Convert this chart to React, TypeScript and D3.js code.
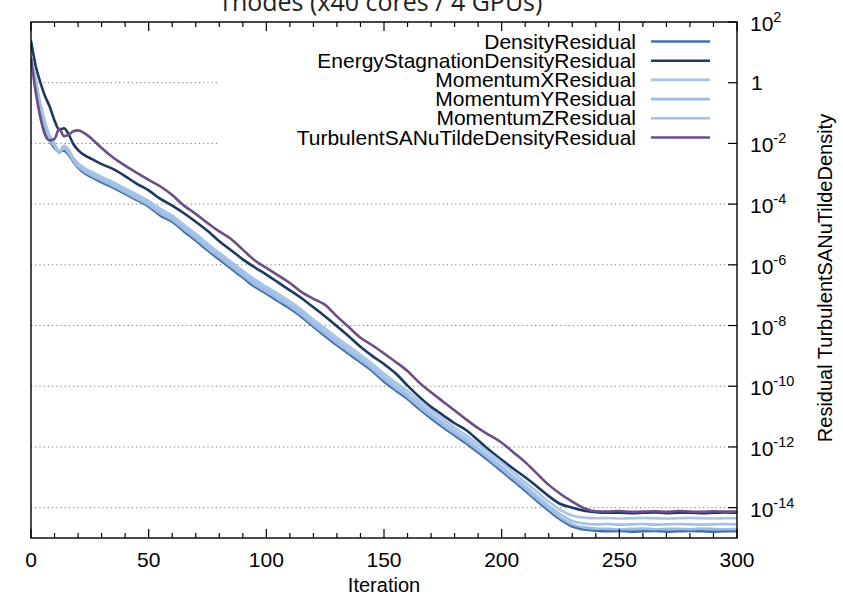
import React from "react";
import * as d3 from "d3";

// iteration numbers the residuals were read at
const iterations = [
  0, 2, 4, 6, 8, 10, 12, 14, 16, 18, 20, 23, 26,
  30, 35, 40, 45, 50, 55, 60, 65, 70, 75, 80, 85, 90, 95, 100,
  105, 110, 115, 120, 125, 130, 135, 140, 145, 150, 155, 160, 165, 170,
  175, 180, 185, 190, 195, 200, 205, 210, 215, 220, 225, 230,
  235, 240, 245, 250, 255, 260, 265, 270, 275, 280, 285, 290, 295, 300,
];

// log10 of each residual
const densityResidual = [
  0.8, 0.05, -0.85, -1.47, -1.9, -2.15, -2.26, -2.24, -2.38, -2.6, -2.8, -3.0, -3.12,
  -3.28, -3.46, -3.66, -3.87, -4.08, -4.38, -4.58, -4.9, -5.2, -5.52, -5.82, -6.12, -6.42, -6.72, -6.95,
  -7.2, -7.44, -7.72, -8.04, -8.35, -8.65, -8.93, -9.21, -9.5, -9.85, -10.14, -10.42, -10.75, -11.06,
  -11.35, -11.62, -11.89, -12.18, -12.48, -12.8, -13.12, -13.44, -13.78, -14.1, -14.4, -14.62,
  -14.72, -14.76, -14.78, -14.77, -14.79, -14.78, -14.77, -14.79, -14.78, -14.77, -14.78, -14.79, -14.78, -14.78,
];
const energyStagnationDensityResidual = [
  1.38, 0.55, 0.0, -0.45, -0.8, -1.25, -1.55, -1.5, -1.7, -2.02, -2.22, -2.4, -2.52,
  -2.68, -2.85, -3.08, -3.33, -3.55, -3.83, -4.05, -4.3, -4.58, -4.88, -5.22, -5.52, -5.82, -6.08, -6.32,
  -6.58, -6.84, -7.1, -7.4, -7.7, -8.02, -8.35, -8.7, -9.0, -9.27, -9.58, -9.98, -10.35, -10.68,
  -10.95, -11.22, -11.45, -11.78, -12.12, -12.42, -12.72, -13.0, -13.3, -13.62, -13.88, -14.0,
  -14.1, -14.15, -14.17, -14.17, -14.18, -14.17, -14.16, -14.18, -14.17, -14.17, -14.18, -14.17, -14.16, -14.17,
];
const momentumXResidual = [
  0.82, 0.1, -0.7, -1.3, -1.75, -2.0, -2.28, -2.08, -2.2, -2.48, -2.65, -2.82, -2.95,
  -3.1, -3.28, -3.48, -3.68, -3.9, -4.16, -4.38, -4.68, -4.98, -5.3, -5.6, -5.9, -6.2, -6.48, -6.72,
  -6.96, -7.2, -7.48, -7.8, -8.1, -8.4, -8.68, -8.96, -9.26, -9.58, -9.88, -10.16, -10.48, -10.8,
  -11.08, -11.36, -11.62, -11.92, -12.22, -12.52, -12.84, -13.16, -13.48, -13.8, -14.08, -14.26,
  -14.33, -14.35, -14.34, -14.36, -14.35, -14.34, -14.35, -14.36, -14.35, -14.34, -14.35, -14.36, -14.35, -14.35,
];
const momentumYResidual = [
  0.8, 0.0, -0.82, -1.42, -1.85, -2.08, -2.3, -2.15, -2.32, -2.56, -2.76, -2.94, -3.07,
  -3.22, -3.41, -3.61, -3.82, -4.03, -4.31, -4.52, -4.83, -5.13, -5.45, -5.75, -6.05, -6.35, -6.65, -6.88,
  -7.13, -7.37, -7.65, -7.97, -8.28, -8.58, -8.86, -9.14, -9.43, -9.77, -10.07, -10.35, -10.68, -10.99,
  -11.28, -11.55, -11.82, -12.11, -12.41, -12.73, -13.05, -13.37, -13.71, -14.03, -14.33, -14.55,
  -14.65, -14.69, -14.7, -14.71, -14.7, -14.69, -14.71, -14.7, -14.7, -14.71, -14.69, -14.7, -14.71, -14.7,
];
const momentumZResidual = [
  0.85, 0.05, -0.78, -1.38, -1.8, -2.05, -2.32, -2.12, -2.26, -2.52, -2.7, -2.88, -3.02,
  -3.16, -3.35, -3.55, -3.76, -3.98, -4.24, -4.46, -4.76, -5.06, -5.38, -5.68, -5.98, -6.28, -6.57, -6.8,
  -7.05, -7.29, -7.57, -7.89, -8.19, -8.5, -8.78, -9.06, -9.36, -9.69, -9.99, -10.27, -10.59, -10.91,
  -11.2, -11.47, -11.74, -12.04, -12.34, -12.65, -12.97, -13.29, -13.62, -13.94, -14.22, -14.44,
  -14.52, -14.55, -14.54, -14.56, -14.55, -14.54, -14.56, -14.55, -14.54, -14.55, -14.56, -14.55, -14.54, -14.55,
];
const turbulentSANuTildeDensityResidual = [
  0.82, -0.3, -1.15, -1.72, -1.9, -1.85, -1.52, -1.76, -1.72, -1.6, -1.57, -1.68, -1.86,
  -2.15, -2.47, -2.73, -2.97, -3.2, -3.42, -3.7, -4.05, -4.32, -4.62, -4.9, -5.15, -5.5, -5.85, -6.1,
  -6.35, -6.6, -6.9, -7.12, -7.32, -7.7, -8.05, -8.4, -8.65, -8.92, -9.2, -9.5, -9.88, -10.2,
  -10.5, -10.8, -11.1, -11.38, -11.62, -11.86, -12.18, -12.5, -12.88, -13.25, -13.55, -13.8,
  -14.02, -14.12, -14.13, -14.11, -14.14, -14.13, -14.12, -14.14, -14.11, -14.13, -14.14, -14.12, -14.13, -14.13,
];

const seriesNames = [
  "DensityResidual",
  "EnergyStagnationDensityResidual",
  "MomentumXResidual",
  "MomentumYResidual",
  "MomentumZResidual",
  "TurbulentSANuTildeDensityResidual",
];
const seriesValues = [
  densityResidual,
  energyStagnationDensityResidual,
  momentumXResidual,
  momentumYResidual,
  momentumZResidual,
  turbulentSANuTildeDensityResidual,
];
const seriesColors = ["#4270a8", "#1b3a5e", "#a8c5e6", "#9dbbe3", "#a4c0e6", "#6b4e87"];

const xTicks = [0, 50, 100, 150, 200, 250, 300];
const yTickExponents = [2, 0, -2, -4, -6, -8, -10, -12, -14];

const title = "1nodes (x40 cores / 4 GPUs)";
const font = "'Liberation Sans', Arial, Helvetica, sans-serif";

export default function App() {
  const width = 843;
  const height = 596;
  const left = 31;
  const right = 737;
  const top = 22;
  const bottom = 538;

  const x = d3.scaleLinear().domain([0, 300]).range([left, right]);
  const y = d3.scaleLog().domain([1e-15, 1e2]).range([bottom, top]);

  const line = d3
    .line<number>()
    .x((_, i) => x(iterations[i]))
    .y((d) => y(Math.pow(10, d)))
    .curve(d3.curveMonotoneX);

  const minorX = d3.range(0, 301, 10);

  return (
    <svg
      width={width}
      height={height}
      style={{ position: "absolute", left: 0, top: 0, background: "#fff" }}
      fontFamily={font}
    >
      <defs>
        <clipPath id="plot">
          <rect x={left} y={top} width={right - left} height={bottom - top} />
        </clipPath>
      </defs>
      <rect width={width} height={height} fill="#fff" />

      {/* title, its top is outside the picture as in the original */}
      <text x={380} y={11} textAnchor="middle" fontSize={25} fontFamily="'Open Sans', 'DejaVu Sans', sans-serif" fill="#222">
        {title}
      </text>

      {/* grid */}
      {yTickExponents.map((e) => (
        <line
          key={"g" + e}
          x1={left}
          x2={right}
          y1={y(Math.pow(10, e))}
          y2={y(Math.pow(10, e))}
          stroke="#777"
          strokeWidth={1}
          strokeDasharray="1.2,3"
        />
      ))}

      {/* series */}
      <g clipPath="url(#plot)" fill="none" strokeWidth={2.6} strokeLinejoin="round">
        {seriesValues.map((vals, i) => (
          <path key={seriesNames[i]} d={line(vals) || ""} stroke={seriesColors[i]} />
        ))}
      </g>

      {/* legend with opaque box */}
      <rect x={219} y={29} width={506} height={121} fill="#fff" />
      {seriesNames.map((name, i) => {
        const cy = 41.5 + i * 19.2;
        return (
          <g key={"l" + name}>
            <text x={636} y={cy + 7} textAnchor="end" fontSize={21} fill="#000">
              {name}
            </text>
            <line x1={651} x2={710} y1={cy} y2={cy} stroke={seriesColors[i]} strokeWidth={2.6} />
          </g>
        );
      })}

      {/* x ticks top and bottom */}
      {minorX.map((t) => {
        const major = t % 50 === 0;
        const len = major ? 9 : 5;
        return (
          <g key={"xt" + t} stroke="#000" strokeWidth={1.2}>
            <line x1={x(t)} x2={x(t)} y1={bottom} y2={bottom - len} />
            <line x1={x(t)} x2={x(t)} y1={top} y2={top + len} />
          </g>
        );
      })}
      {xTicks.map((t) => (
        <text key={"xl" + t} x={x(t)} y={567} textAnchor="middle" fontSize={21} fill="#000">
          {t}
        </text>
      ))}
      <text x={(left + right) / 2} y={592} textAnchor="middle" fontSize={20} fill="#000">
        Iteration
      </text>

      {/* y ticks on the right */}
      {yTickExponents.map((e) => {
        const yy = y(Math.pow(10, e));
        return (
          <g key={"yt" + e}>
            <line x1={right} x2={right - 9} y1={yy} y2={yy} stroke="#000" strokeWidth={1.2} />
            {e === 0 ? (
              <text x={751} y={yy + 7.5} fontSize={21} fill="#000">
                1
              </text>
            ) : (
              <text x={750} y={yy + 9} fontSize={21} fill="#000">
                10
                <tspan fontSize={14.5} dy={-9}>
                  {e}
                </tspan>
              </text>
            )}
          </g>
        );
      })}

      {/* frame */}
      <rect x={left} y={top} width={right - left} height={bottom - top} fill="none" stroke="#000" strokeWidth={1.4} />

      <text
        transform={`translate(832, 278) rotate(-90)`}
        textAnchor="middle"
        fontSize={20}
        fill="#000"
      >
        Residual TurbulentSANuTildeDensity
      </text>
    </svg>
  );
}
